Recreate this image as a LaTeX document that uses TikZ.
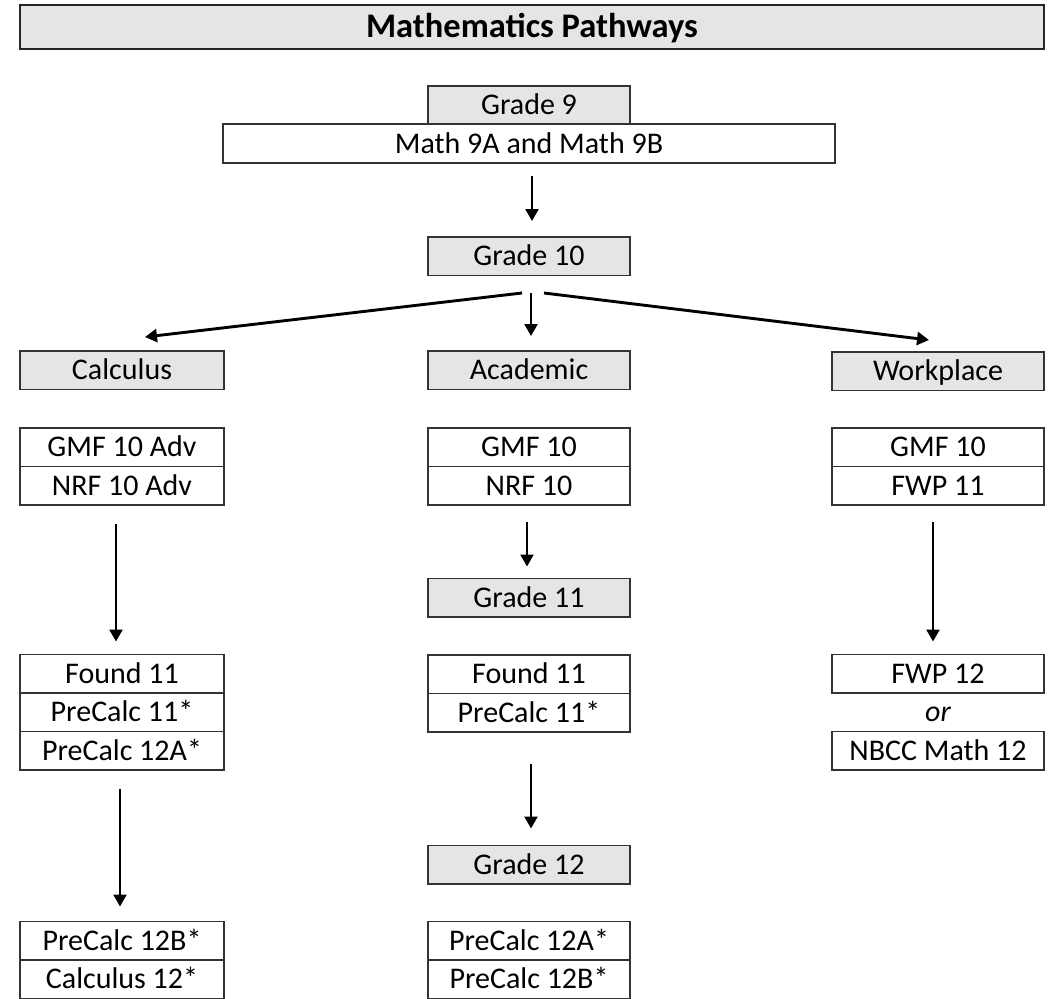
\documentclass[tikz,border=0pt]{standalone}
\usepackage{fontspec}
\setmainfont{Carlito}
\usetikzlibrary{arrows.meta}
\begin{document}
\begin{tikzpicture}[x=1pt,y=-1pt,
  box/.style={draw=black!80, line width=1.5pt, fill=white, inner sep=0pt,
    font=\fontsize{30}{31}\selectfont, text height=23pt, text depth=4pt},
  hdr/.style={box, fill=black!10},
  titlebox/.style={draw=black!85, line width=2.6pt, fill=black!10, inner sep=0pt,
    font=\fontsize{34.5}{36}\selectfont\bfseries, text height=26pt, text depth=5pt},
  arr/.style={line width=2.4pt, -{Triangle[width=13pt,length=12pt]}},
  cw/.style={minimum width=204pt, minimum height=38.5pt},
  aw/.style={minimum width=202pt, minimum height=38.5pt},
  ww/.style={minimum width=212pt, minimum height=38.5pt},
]
\useasboundingbox (0,0) rectangle (1051,998);

\node[titlebox, minimum width=1024pt, minimum height=44pt] (title) at (532,27) {Mathematics Pathways};

\node[hdr, aw] (g9) at (529,105) {Grade 9};
\node[box, minimum width=612pt, minimum height=39pt] (m9) at (529,143.5) {Math 9A and Math 9B};
\node[hdr, aw] (g10) at (529,256) {Grade 10};

\node[hdr, cw] (calc) at (122,370) {Calculus};
\node[hdr, aw] (acad) at (529,370) {Academic};
\node[hdr, ww] (work) at (938,371) {Workplace};

% Calculus column
\node[box, cw] (cgmf) at (122,447) {GMF 10 Adv};
\node[box, cw] (cnrf) at (122,485.5) {NRF 10 Adv};
\node[box, cw] (cf11) at (122,673.5) {Found 11};
\node[box, cw] (cpc11) at (122,712) {PreCalc 11*};
\node[box, cw] (cpc12a) at (122,750.5) {PreCalc 12A*};
\node[box, cw] (cpc12b) at (122,940.5) {PreCalc 12B*};
\node[box, cw] (ccal) at (122,979) {Calculus 12*};

% Academic column
\node[box, aw] (agmf) at (529,447) {GMF 10};
\node[box, aw] (anrf) at (529,485.5) {NRF 10};
\node[hdr, aw] (g11) at (529,597.5) {Grade 11};
\node[box, aw] (af11) at (529,674) {Found 11};
\node[box, aw] (apc11) at (529,712.5) {PreCalc 11*};
\node[hdr, aw] (g12) at (529,864.5) {Grade 12};
\node[box, aw] (apc12a) at (529,940.5) {PreCalc 12A*};
\node[box, aw] (apc12b) at (529,979) {PreCalc 12B*};

% Workplace column
\node[box, ww] (wgmf) at (938,447) {GMF 10};
\node[box, ww] (wfwp11) at (938,485.5) {FWP 11};
\node[box, ww] (wfwp12) at (938,673.5) {FWP 12};
\node[inner sep=0pt, font=\fontsize{30}{31}\selectfont\itshape, text height=23pt, text depth=4pt] (or) at (938,712) {or};
\node[box, ww] (wnbcc) at (938,750.5) {NBCC Math 12};

% arrows
\draw[arr, shorten <=12pt, shorten >=15pt] ([xshift=3pt]m9.south) -- ([xshift=3pt]g10.north);
\draw[arr, line width=2.9pt] ([xshift=-7pt,yshift=-17pt]g10.south) -- ([xshift=23pt,yshift=13pt]calc.north);
\draw[arr] ([xshift=2pt,yshift=-17pt]g10.south) -- ([xshift=2pt,yshift=14pt]acad.north);
\draw[arr, line width=2.9pt] ([xshift=15pt,yshift=-17pt]g10.south) -- ([xshift=-9pt,yshift=11pt]work.north);

\draw[arr, shorten <=18pt, shorten >=12pt] ([xshift=-6pt]cnrf.south) -- ([xshift=-6pt]cf11.north);
\draw[arr, shorten <=18pt, shorten >=14pt] ([xshift=-2pt]cpc12a.south) -- ([xshift=-2pt]cpc12b.north);

\draw[arr, shorten <=16pt, shorten >=11pt] ([xshift=-2pt]anrf.south) -- ([xshift=-2pt]g11.north);
\draw[arr, shorten <=31pt, shorten >=16pt] ([xshift=2pt]apc11.south) -- ([xshift=2pt]g12.north);

\draw[arr, shorten <=16pt, shorten >=12pt] ([xshift=-5pt]wfwp11.south) -- ([xshift=-5pt]wfwp12.north);
\end{tikzpicture}
\end{document}
